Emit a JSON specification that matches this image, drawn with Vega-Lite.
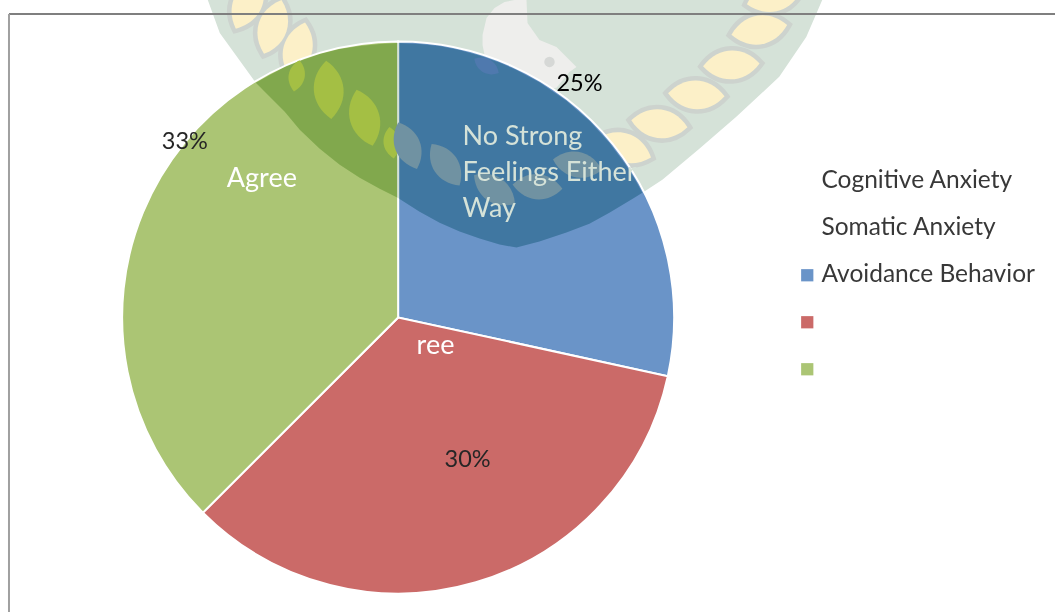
{
  "$schema": "https://vega.github.io/schema/vega-lite/v6.json",
  "width": 1056,
  "height": 613,
  "autosize": {"type": "fit", "contains": "padding"},
  "padding": 0,
  "background": "white",
  "config": {
    "view": {"stroke": null},
    "axis": {"disable": true},
    "text": {"font": "Lato"}
  },
  "datasets": {
    "slices": [
      {"legend": "Avoidance Behavior", "response": "No Strong Feelings Either Way", "pct": 25, "rank": 1},
      {"legend": " ", "response": "Disagree", "pct": 30, "rank": 2},
      {"legend": "  ", "response": "Agree", "pct": 33, "rank": 3}
    ],
    "single": [{"row": 1}],
    "crest": [
      {"cx": 208, "cy": 0}, {"cx": 220, "cy": 33}, {"cx": 256, "cy": 83}, {"cx": 280, "cy": 107},
      {"cx": 300, "cy": 130}, {"cx": 333, "cy": 160}, {"cx": 367, "cy": 182}, {"cx": 397, "cy": 198},
      {"cx": 433, "cy": 220}, {"cx": 477, "cy": 238}, {"cx": 517, "cy": 248}, {"cx": 567, "cy": 233},
      {"cx": 600, "cy": 218}, {"cx": 640, "cy": 195}, {"cx": 663, "cy": 180}, {"cx": 700, "cy": 149},
      {"cx": 737, "cy": 117}, {"cx": 780, "cy": 77}, {"cx": 807, "cy": 37}, {"cx": 823, "cy": 0}
    ],
    "crestOverPie": [
      {"cx": 256, "lower": 83, "upper": 83}, {"cx": 270, "lower": 97, "upper": 75}, {"cx": 285, "lower": 112, "upper": 67},
      {"cx": 300, "lower": 130, "upper": 61}, {"cx": 320, "lower": 149, "upper": 54}, {"cx": 340, "lower": 165, "upper": 49},
      {"cx": 360, "lower": 178, "upper": 46}, {"cx": 380, "lower": 189, "upper": 44}, {"cx": 398, "lower": 198, "upper": 43},
      {"cx": 420, "lower": 212, "upper": 44}, {"cx": 440, "lower": 223, "upper": 46}, {"cx": 460, "lower": 232, "upper": 50},
      {"cx": 480, "lower": 239, "upper": 55.5}, {"cx": 500, "lower": 245, "upper": 62.5}, {"cx": 517, "lower": 248, "upper": 70},
      {"cx": 540, "lower": 242, "upper": 82.5}, {"cx": 567, "lower": 233, "upper": 101}, {"cx": 590, "lower": 224, "upper": 121},
      {"cx": 610, "lower": 213, "upper": 143}, {"cx": 625, "lower": 204, "upper": 163}, {"cx": 635, "lower": 198, "upper": 178.5},
      {"cx": 643, "lower": 193, "upper": 193}
    ],
    "bird": [
      {"cx": 483, "top": 35, "bottom": 45}, {"cx": 487, "top": 18, "bottom": 65}, {"cx": 495, "top": 8, "bottom": 75},
      {"cx": 505, "top": 2, "bottom": 85}, {"cx": 515, "top": 0, "bottom": 85}, {"cx": 527, "top": 0, "bottom": 85},
      {"cx": 528, "top": 23, "bottom": 85}, {"cx": 540, "top": 40, "bottom": 90}, {"cx": 557, "top": 47, "bottom": 88},
      {"cx": 570, "top": 60, "bottom": 72}, {"cx": 577, "top": 67, "bottom": 67}
    ],
    "beads": [
      {"cx": 248, "cy": 3, "tilt": -65}, {"cx": 273, "cy": 27, "tilt": -72}, {"cx": 298, "cy": 50, "tilt": -75},
      {"cx": 775, "cy": -3, "tilt": -15}, {"cx": 760, "cy": 30, "tilt": -10}, {"cx": 732, "cy": 65, "tilt": -3},
      {"cx": 697, "cy": 95, "tilt": 3}, {"cx": 660, "cy": 124, "tilt": 7}, {"cx": 625, "cy": 148, "tilt": 20}
    ],
    "greenBeads": [
      {"cx": 329, "cy": 90, "tilt": 85}, {"cx": 365, "cy": 118, "tilt": 74}
    ],
    "blueBeads": [
      {"cx": 408, "cy": 146, "tilt": 68}, {"cx": 446, "cy": 165, "tilt": 56},
      {"cx": 495, "cy": 190, "tilt": 35}, {"cx": 538, "cy": 187, "tilt": 5}, {"cx": 578, "cy": 165, "tilt": 12}
    ],
    "tips": [
      {"cx": 297, "cy": 76, "tilt": 100}, {"cx": 392, "cy": 143, "tilt": 82}
    ],
    "blueSpots": [
      {"cx": 487, "cy": 66, "tilt": 30}
    ],
    "spots": [
      {"cx": 550, "cy": 62}
    ]
  },
  "layer": [
    {
      "data": {"name": "crest"},
      "mark": {"type": "area", "color": "#d5e2d8", "clip": true},
      "encoding": {
        "x": {"field": "cx", "type": "quantitative", "scale": {"domain": [0, 1056]}},
        "y": {"field": "cy", "type": "quantitative", "scale": {"domain": [613, 0]}},
        "y2": {"datum": 0}
      }
    },
    {
      "data": {"name": "bird"},
      "mark": {"type": "area", "color": "#eeeeec", "clip": true},
      "encoding": {
        "x": {"field": "cx", "type": "quantitative", "scale": {"domain": [0, 1056]}},
        "y": {"field": "bottom", "type": "quantitative", "scale": {"domain": [613, 0]}},
        "y2": {"field": "top"}
      }
    },
    {
      "data": {"name": "spots"},
      "mark": {"type": "point", "filled": true, "color": "#d6d8d6", "opacity": 1, "size": 110},
      "encoding": {
        "x": {"field": "cx", "type": "quantitative", "scale": {"domain": [0, 1056]}},
        "y": {"field": "cy", "type": "quantitative", "scale": {"domain": [613, 0]}}
      }
    },
    {
      "data": {"name": "beads"},
      "mark": {"type": "point", "shape": "M-1,0 C-0.45,-0.68 0.45,-0.68 1,0 C0.45,0.68 -0.45,0.68 -1,0 Z", "filled": false, "stroke": "#cdd3ce", "strokeWidth": 9, "opacity": 1, "size": 3200, "clip": true},
      "encoding": {
        "x": {"field": "cx", "type": "quantitative", "scale": {"domain": [0, 1056]}},
        "y": {"field": "cy", "type": "quantitative", "scale": {"domain": [613, 0]}},
        "angle": {"field": "tilt", "type": "quantitative", "scale": null}
      }
    },
    {
      "data": {"name": "beads"},
      "mark": {"type": "point", "shape": "M-1,0 C-0.45,-0.68 0.45,-0.68 1,0 C0.45,0.68 -0.45,0.68 -1,0 Z", "filled": true, "color": "#fcf0c8", "opacity": 1, "size": 3200, "clip": true},
      "encoding": {
        "x": {"field": "cx", "type": "quantitative", "scale": {"domain": [0, 1056]}},
        "y": {"field": "cy", "type": "quantitative", "scale": {"domain": [613, 0]}},
        "angle": {"field": "tilt", "type": "quantitative", "scale": null}
      }
    },
    {
      "data": {"name": "slices"},
      "mark": {"type": "arc", "outerRadius": 276, "stroke": "white", "strokeWidth": 2},
      "encoding": {
        "x": {"datum": 398.5, "type": "quantitative", "scale": {"domain": [0, 1056]}},
        "y": {"datum": 318, "type": "quantitative", "scale": {"domain": [613, 0]}},
        "theta": {"field": "pct", "type": "quantitative", "stack": true},
        "order": {"field": "rank", "type": "ordinal"},
        "color": {
          "field": "legend",
          "type": "nominal",
          "sort": null,
          "scale": {
            "domain": ["Cognitive Anxiety", "Somatic Anxiety", "Avoidance Behavior", " ", "  "],
            "range": ["transparent", "transparent", "#6a94c8", "#cb6a68", "#abc574"]
          },
          "legend": {
            "orient": "none",
            "legendX": 795,
            "legendY": 169,
            "title": null,
            "symbolType": "square",
            "symbolSize": 150,
            "symbolStrokeWidth": 0,
            "labelFont": "Lato",
            "labelFontSize": 24.5,
            "labelColor": "#383838",
            "labelOffset": 2,
            "rowPadding": 22,
            "labelLimit": 300
          }
        }
      }
    },
    {
      "data": {"name": "crestOverPie"},
      "mark": {"type": "area", "color": "#2a1d27", "blend": "difference"},
      "encoding": {
        "x": {"field": "cx", "type": "quantitative", "scale": {"domain": [0, 1056]}},
        "y": {"field": "lower", "type": "quantitative", "scale": {"domain": [613, 0]}},
        "y2": {"field": "upper"}
      }
    },
    {
      "data": {"name": "greenBeads"},
      "mark": {"type": "point", "shape": "M-1,0 C-0.45,-0.68 0.45,-0.68 1,0 C0.45,0.68 -0.45,0.68 -1,0 Z", "filled": true, "color": "#a4bf44", "opacity": 1, "size": 3400},
      "encoding": {
        "x": {"field": "cx", "type": "quantitative", "scale": {"domain": [0, 1056]}},
        "y": {"field": "cy", "type": "quantitative", "scale": {"domain": [613, 0]}},
        "angle": {"field": "tilt", "type": "quantitative", "scale": null}
      }
    },
    {
      "data": {"name": "tips"},
      "mark": {"type": "point", "shape": "M-1,0 C-0.45,-0.68 0.45,-0.68 1,0 C0.45,0.68 -0.45,0.68 -1,0 Z", "filled": true, "color": "#a4bf44", "opacity": 1, "size": 1000},
      "encoding": {
        "x": {"field": "cx", "type": "quantitative", "scale": {"domain": [0, 1056]}},
        "y": {"field": "cy", "type": "quantitative", "scale": {"domain": [613, 0]}},
        "angle": {"field": "tilt", "type": "quantitative", "scale": null}
      }
    },
    {
      "data": {"name": "blueSpots"},
      "mark": {"type": "point", "shape": "M-1,0 C-0.45,-0.68 0.45,-0.68 1,0 C0.45,0.68 -0.45,0.68 -1,0 Z", "filled": true, "color": "#4f79ae", "opacity": 1, "size": 800},
      "encoding": {
        "x": {"field": "cx", "type": "quantitative", "scale": {"domain": [0, 1056]}},
        "y": {"field": "cy", "type": "quantitative", "scale": {"domain": [613, 0]}},
        "angle": {"field": "tilt", "type": "quantitative", "scale": null}
      }
    },
    {
      "data": {"name": "blueBeads"},
      "mark": {"type": "point", "shape": "M-1,0 C-0.45,-0.68 0.45,-0.68 1,0 C0.45,0.68 -0.45,0.68 -1,0 Z", "filled": true, "color": "#7092a2", "opacity": 1, "size": 2500},
      "encoding": {
        "x": {"field": "cx", "type": "quantitative", "scale": {"domain": [0, 1056]}},
        "y": {"field": "cy", "type": "quantitative", "scale": {"domain": [613, 0]}},
        "angle": {"field": "tilt", "type": "quantitative", "scale": null}
      }
    },
    {
      "data": {"name": "single"},
      "mark": {"type": "rule", "color": "#7f7f7f", "strokeWidth": 2},
      "encoding": {
        "x": {"datum": 9, "type": "quantitative", "scale": {"domain": [0, 1056]}},
        "x2": {"datum": 1056},
        "y": {"datum": 14, "type": "quantitative", "scale": {"domain": [613, 0]}}
      }
    },
    {
      "data": {"name": "single"},
      "mark": {"type": "rule", "color": "#a0a0a0", "strokeWidth": 2},
      "encoding": {
        "x": {"datum": 9, "type": "quantitative", "scale": {"domain": [0, 1056]}},
        "y": {"datum": 14, "type": "quantitative", "scale": {"domain": [613, 0]}},
        "y2": {"datum": 613}
      }
    },
    {
      "data": {"name": "single"},
      "mark": {"type": "text", "text": ["No Strong", "Feelings Either", "Way"], "align": "left", "baseline": "alphabetic", "fontSize": 27, "lineHeight": 36, "color": "#d5e2d8"},
      "encoding": {
        "x": {"datum": 463, "type": "quantitative", "scale": {"domain": [0, 1056]}},
        "y": {"datum": 145, "type": "quantitative", "scale": {"domain": [613, 0]}}
      }
    },
    {
      "data": {"name": "single"},
      "mark": {"type": "text", "text": "Agree", "align": "left", "baseline": "alphabetic", "fontSize": 27, "color": "white"},
      "encoding": {
        "x": {"datum": 227, "type": "quantitative", "scale": {"domain": [0, 1056]}},
        "y": {"datum": 187, "type": "quantitative", "scale": {"domain": [613, 0]}}
      }
    },
    {
      "data": {"name": "single"},
      "mark": {"type": "text", "text": "ree", "align": "left", "baseline": "alphabetic", "fontSize": 27, "color": "white"},
      "encoding": {
        "x": {"datum": 417, "type": "quantitative", "scale": {"domain": [0, 1056]}},
        "y": {"datum": 355, "type": "quantitative", "scale": {"domain": [613, 0]}}
      }
    },
    {
      "data": {"name": "single"},
      "mark": {"type": "text", "text": "25%", "align": "left", "baseline": "alphabetic", "fontSize": 23.5, "color": "#000000"},
      "encoding": {
        "x": {"datum": 557, "type": "quantitative", "scale": {"domain": [0, 1056]}},
        "y": {"datum": 91, "type": "quantitative", "scale": {"domain": [613, 0]}}
      }
    },
    {
      "data": {"name": "single"},
      "mark": {"type": "text", "text": "30%", "align": "left", "baseline": "alphabetic", "fontSize": 23.5, "color": "#262626"},
      "encoding": {
        "x": {"datum": 445, "type": "quantitative", "scale": {"domain": [0, 1056]}},
        "y": {"datum": 468, "type": "quantitative", "scale": {"domain": [613, 0]}}
      }
    },
    {
      "data": {"name": "single"},
      "mark": {"type": "text", "text": "33%", "align": "left", "baseline": "alphabetic", "fontSize": 23.5, "color": "#262626"},
      "encoding": {
        "x": {"datum": 162, "type": "quantitative", "scale": {"domain": [0, 1056]}},
        "y": {"datum": 149, "type": "quantitative", "scale": {"domain": [613, 0]}}
      }
    }
  ]
}
